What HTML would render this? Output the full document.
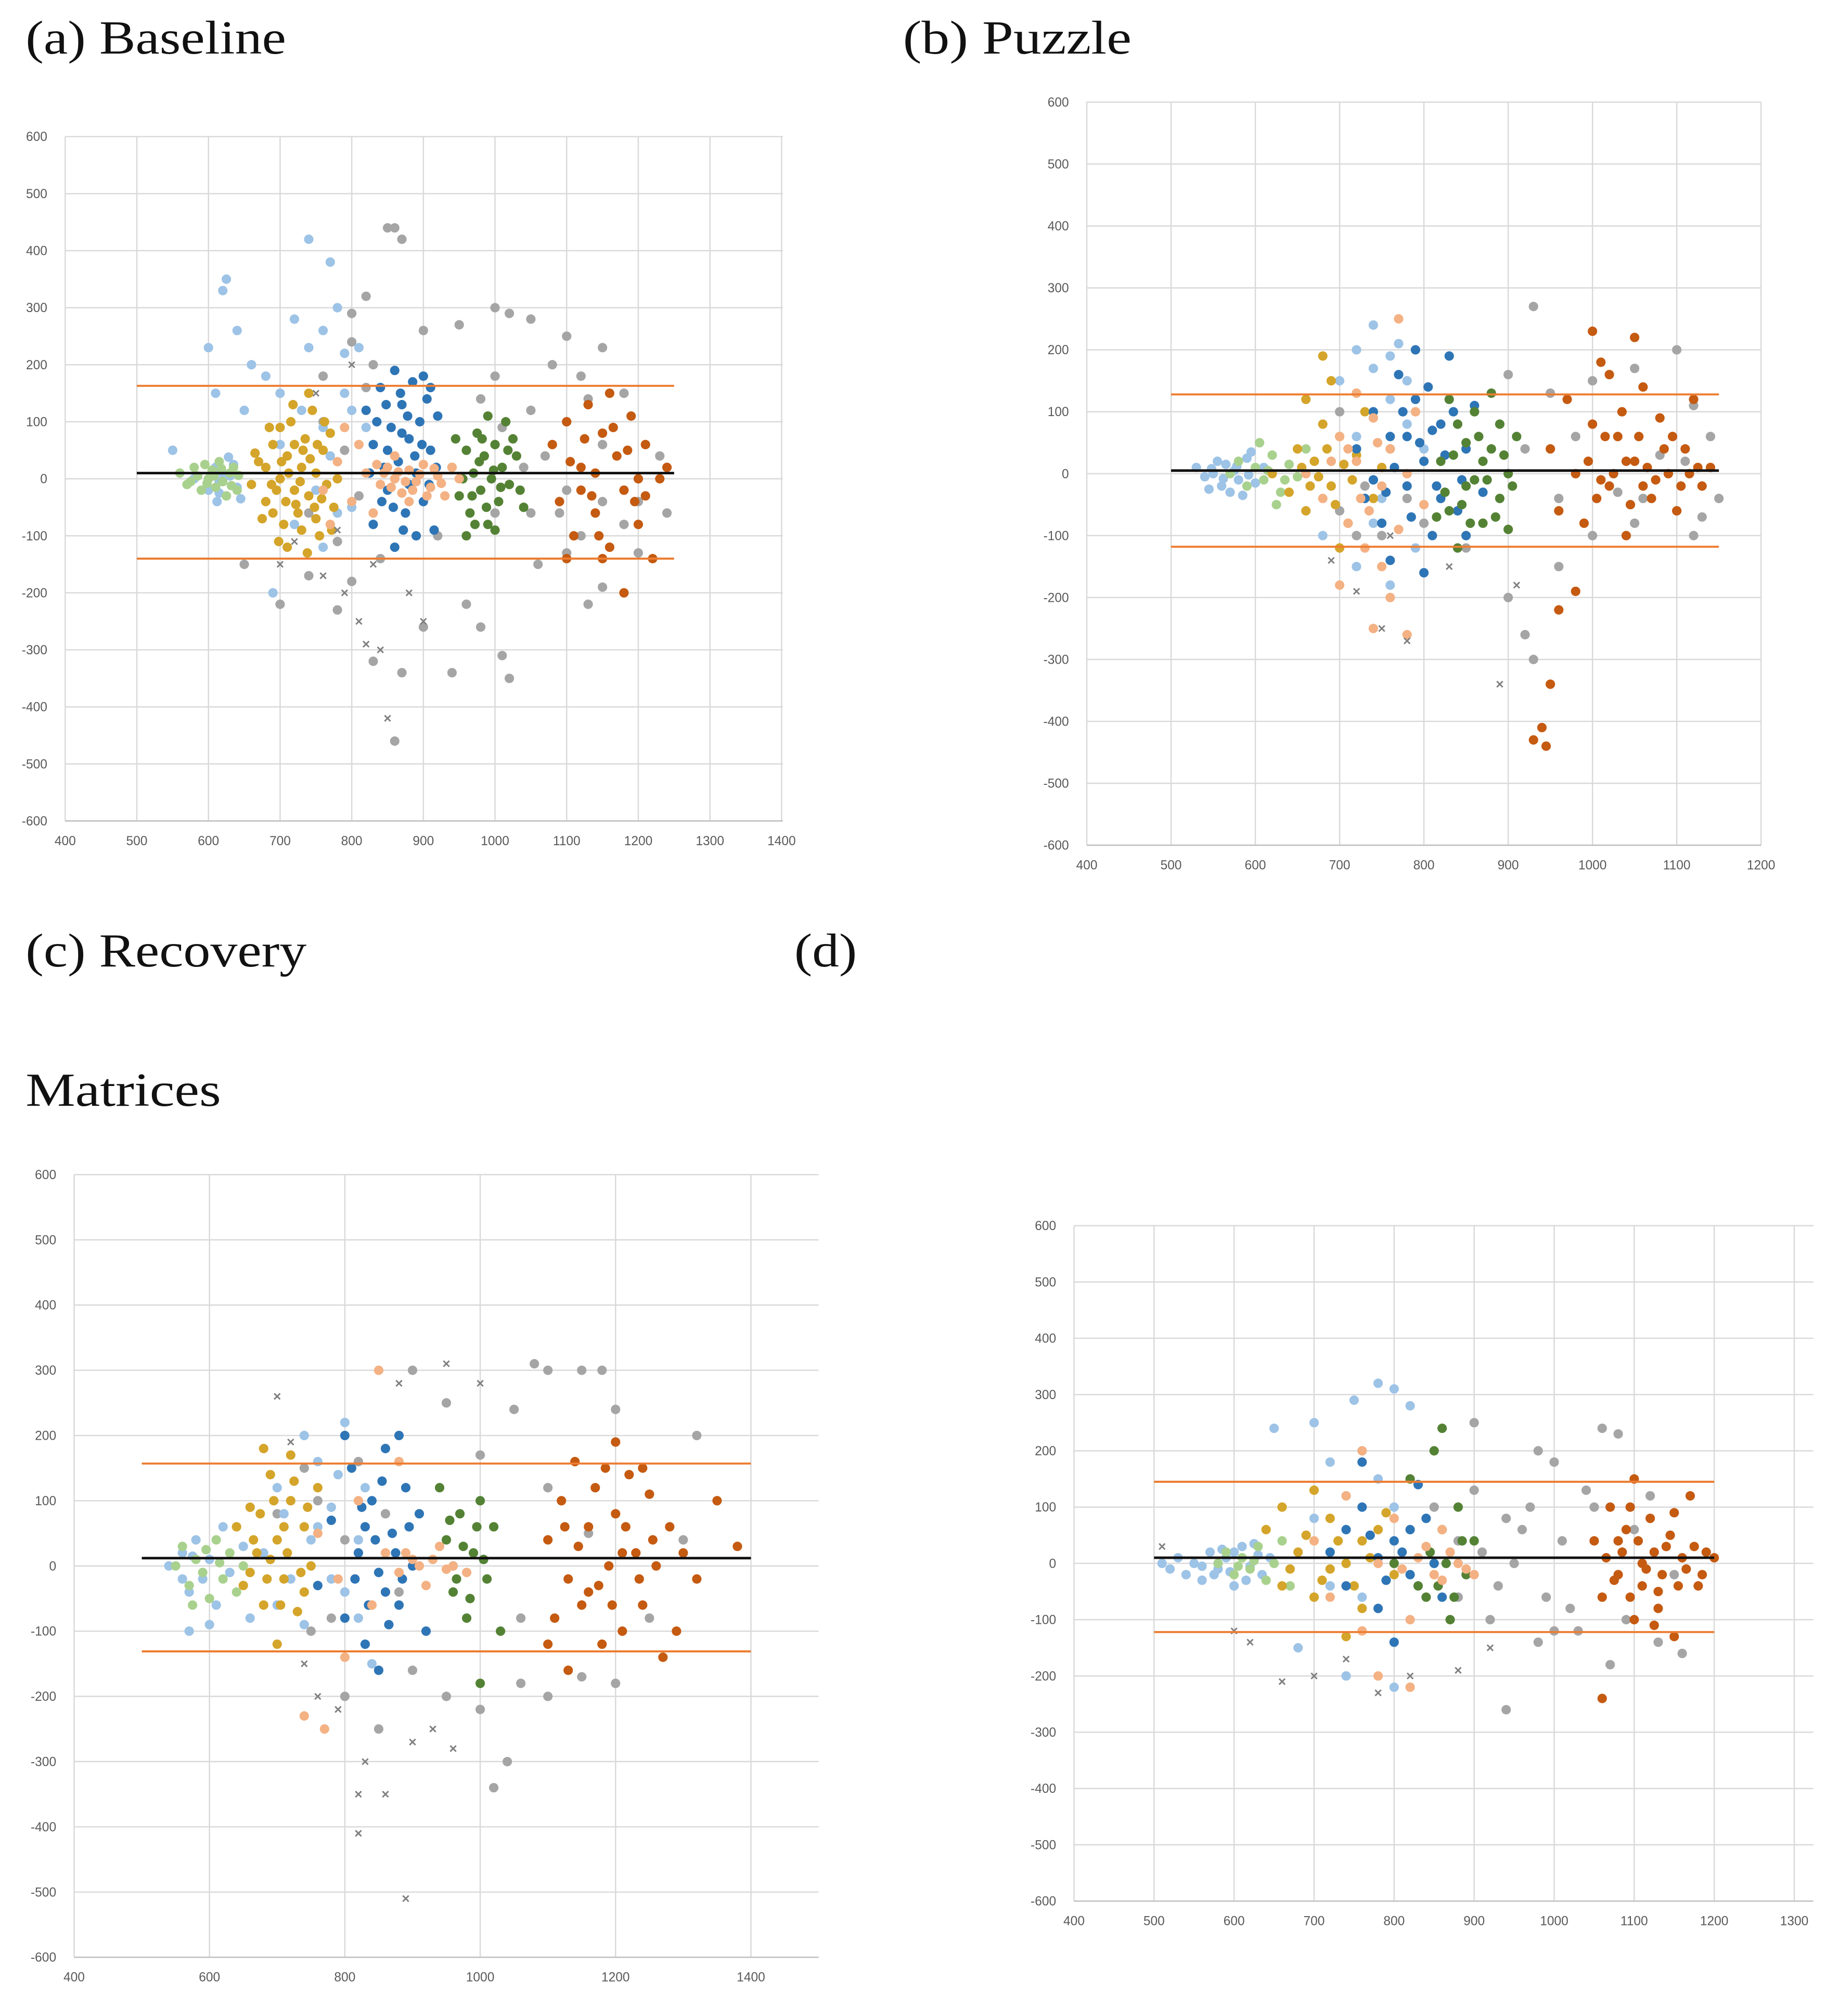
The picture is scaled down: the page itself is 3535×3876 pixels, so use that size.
<!DOCTYPE html>
<html><head><meta charset="utf-8"><style>
html,body{margin:0;padding:0;background:#fff;}
svg{display:block;}
.t{font-family:"Liberation Serif",serif;fill:#111;}
.k{font-family:"Liberation Sans",sans-serif;fill:#595959;font-size:10px;}
</style></head><body>
<svg id="fig" width="3535" height="3876" viewBox="0 0 1440 1579" xmlns="http://www.w3.org/2000/svg">
<rect width="1440" height="1579" fill="#fff"/>
<text class="t" x="20" y="42" font-size="37" textLength="204" lengthAdjust="spacingAndGlyphs">(a) Baseline</text>
<text class="t" x="707" y="42" font-size="37" textLength="179" lengthAdjust="spacingAndGlyphs">(b) Puzzle</text>
<text class="t" x="20" y="757" font-size="37" textLength="220" lengthAdjust="spacingAndGlyphs">(c) Recovery</text>
<text class="t" x="622" y="757" font-size="37" textLength="49" lengthAdjust="spacingAndGlyphs">(d)</text>
<text class="t" x="20" y="866" font-size="37" textLength="153" lengthAdjust="spacingAndGlyphs">Matrices</text>
</svg>
<script>
const C = {lb:"#9dc3e6", lg:"#a9d18e", go:"#d4a52a", gr:"#a5a5a5", bl:"#2e75b6", pe:"#f4b183", gn:"#548235", or:"#c55a11", dg:"#7f7f7f"};
// ---- panel a data
const aLimits = [10, 163, -140];
const aLightBlue = [[550,50],[580,0],[600,-20],[610,20],[615,-5],[620,10],[625,-30],[630,5],[635,25],[640,-15],[600,230],[620,330],[625,350],[640,260],[660,200],[680,180],[700,150],[720,280],[740,230],[760,260],[780,300],[790,220],[720,-80],[760,-120],[690,-200],[800,-50],[650,120],[610,150],[770,380],[740,420],[615,-25],[605,8],[645,-35],[628,38],[612,-40],[700,60],[730,120],[760,90],[790,150],[810,230],[780,-60],[750,-20],[820,90],[800,120],[770,40]];
const aLightGreen = [[560,10],[570,-10],[580,20],[590,-20],[600,0],[605,15],[610,-15],[615,30],[620,-5],[630,10],[640,-20],[585,5],[595,25],[625,-30],[635,20],[575,-5],[598,-8],[608,5],[618,18],[632,-12],[642,6]];
const aGold = [[660,-10],[670,30],[680,-40],[690,60],[700,0],[705,-80],[710,40],[715,100],[720,-20],[725,-60],[730,20],[735,70],[740,-30],[745,120],[750,10],[755,-100],[760,50],[765,-10],[770,80],[775,-50],[780,0],[690,-60],[700,90],[710,-120],[720,60],[730,-90],[740,150],[750,-70],[680,20],[695,-20],[712,10],[728,-5],[742,35],[758,-35],[665,45],[675,-70],[685,90],[698,-110],[708,-40],[718,130],[732,50],[748,-50],[762,100],[772,-90],[738,-130],[702,30],[722,-45],[752,60],[688,-10]];
const aGray = [[650,-150],[700,-220],[740,-170],[780,-230],[800,-180],[830,-320],[860,-460],[870,-340],[900,-260],[940,-340],[980,-260],[1010,-310],[1020,-350],[1060,-150],[1100,-130],[1130,-220],[1150,-190],[1200,-130],[1000,300],[1020,290],[1050,280],[1100,250],[1150,230],[1180,150],[950,270],[900,260],[860,440],[850,440],[870,420],[820,320],[800,290],[1000,180],[1050,120],[1100,100],[1150,60],[1230,40],[1050,-60],[1100,-20],[1200,-40],[960,-220],[920,-100],[1120,-100],[1240,-60],[1080,200],[1120,180],[980,140],[760,100],[790,50],[810,-30],[780,-110],[820,160],[840,-140],[760,180],[740,-60],[800,240],[830,200],[1000,-60],[1040,20],[1070,40],[1090,-60],[1130,140],[1180,-80],[1150,-40],[1010,90]];
const aBlue = [[820,120],[830,60],[840,160],[850,-20],[855,90],[860,190],[865,30],[870,130],[875,-60],[880,70],[885,170],[890,10],[895,100],[900,-40],[905,140],[910,50],[915,-90],[920,110],[830,-80],[860,-120],[890,-100],[845,20],[870,80],[900,180],[825,10],[880,-10],[910,160],[850,50],[835,100],[848,130],[858,-50],[868,150],[878,110],[888,40],[898,60],[908,-10],[918,20],[842,-40],[872,-90]];
const aPeach = [[760,-20],[780,30],[800,-40],[820,10],[840,-10],[850,20],[860,0],[870,-25],[880,15],[890,-5],[900,25],[910,-15],[920,5],[930,-30],[940,20],[950,0],[810,60],[830,-60],[790,90],[770,-80],[860,40],[880,-40],[855,-15],[865,12],[875,-5],[885,-20],[895,8],[905,-30],[915,18],[925,-8],[845,10],[835,25]];
const aGreen = [[940,20],[950,-30],[960,50],[965,-60],[970,10],[975,80],[980,-20],[985,40],[990,-80],[995,0],[1000,60],[1005,-40],[1010,20],[1015,100],[1020,-10],[1030,40],[1040,-50],[960,-100],[990,110],[1000,-90],[945,70],[1025,70],[955,0],[968,-30],[978,30],[988,-50],[998,15],[1008,-15],[1018,50],[1035,-20],[982,70],[972,-80]];
const aOrange = [[1080,60],[1090,-40],[1100,100],[1110,-100],[1120,20],[1130,130],[1140,-60],[1150,80],[1160,-120],[1170,40],[1180,-20],[1190,110],[1200,-80],[1210,60],[1220,-140],[1230,0],[1240,20],[1100,-140],[1150,-140],[1180,-200],[1120,-20],[1160,150],[1200,0],[1140,10],[1210,-30],[1125,70],[1145,-100],[1165,90],[1185,50],[1195,-40],[1105,30],[1135,-30]];
const aDarkGray = [[700,-150],[720,-110],[760,-170],[790,-200],[810,-250],[820,-290],[840,-300],[850,-420],[900,-250],[880,-200],[750,150],[800,200],[780,-90],[830,-150]];

// ---- panel b data
const bLimits = [5, 128, -118];
const bLightBlue = [[530,10],[540,-5],[550,0],[560,-20],[565,15],[570,-30],[575,5],[580,-10],[590,25],[600,-15],[610,10],[545,-25],[555,20],[585,-35],[595,35],[700,150],[720,200],[740,170],[760,190],[780,150],[680,-100],[720,-150],[760,-180],[790,-120],[740,240],[770,210],[548,8],[562,-8],[578,12],[592,-2],[720,60],[750,-40],[780,80],[740,-80],[800,40],[760,120]];
const bLightGreen = [[570,0],[580,20],[590,-20],[600,10],[610,-10],[620,30],[630,-30],[640,15],[650,-5],[660,40],[605,50],[625,-50],[615,5],[635,-10]];
const bGold = [[620,0],[640,-30],[650,40],[660,-60],[670,20],[680,80],[690,-20],[700,60],[710,-80],[720,30],[730,100],[740,-40],[750,10],[660,120],[690,150],[700,-120],[680,190],[720,130],[675,-5],[705,15],[655,10],[665,-20],[685,40],[695,-50],[715,-10]];
const bGray = [[700,-60],[750,-100],[800,-80],[850,-120],[900,-200],[920,-260],[930,-300],[960,-150],[1000,-100],[1050,-80],[1100,-60],[1120,-100],[1150,-40],[900,160],[930,270],[950,130],[1000,150],[1050,170],[1100,200],[1120,110],[1140,60],[1080,30],[1030,-30],[980,60],[1130,-70],[1060,-40],[700,100],[730,-20],[760,40],[720,-100],[780,-40],[920,40],[960,-40],[1110,20]];
const bBlue = [[720,40],[730,-40],[740,100],[750,-80],[760,60],[770,160],[780,-20],[790,120],[800,20],[810,-100],[820,80],[830,190],[840,-60],[850,40],[860,110],[870,-30],[760,-140],[800,-160],[740,-10],[780,60],[820,-40],[790,200],[850,-100],[765,10],[775,100],[785,-70],[795,50],[805,140],[815,-20],[825,30],[835,100],[845,-10],[755,-30],[810,70]];
const bPeach = [[660,0],[680,-40],[700,60],[710,-80],[720,20],[730,-120],[740,90],[750,-20],[760,40],[770,-90],[780,0],[790,100],[700,-180],[740,-250],[760,-200],[780,-260],[770,250],[720,130],[750,-150],[800,-50],[690,20],[710,40],[725,-40],[735,-60],[745,50]];
const bGreen = [[820,20],[830,-60],[840,80],[850,-20],[860,100],[870,-80],[880,40],[890,-40],[900,0],[910,60],[840,-120],[880,130],[860,-10],[900,-90],[830,120],[870,20],[850,50],[890,80],[825,-30],[835,30],[845,-50],[855,-80],[865,60],[875,-10],[885,-70],[895,30],[905,-20],[815,-70]];
const bOrange = [[950,40],[960,-60],[970,120],[980,0],[990,-80],[1000,80],[1010,180],[1020,-20],[1030,60],[1040,-100],[1050,20],[1060,140],[1070,-40],[1080,90],[1090,0],[1100,-60],[1110,40],[1120,120],[1130,-20],[1140,10],[1000,230],[1050,220],[980,-190],[960,-220],[940,-410],[950,-340],[945,-440],[930,-430],[1020,160],[1060,-20],[995,20],[1005,-40],[1015,60],[1025,0],[1035,100],[1045,-50],[1055,60],[1065,10],[1075,-10],[1085,40],[1095,60],[1105,-20],[1115,0],[1125,10],[1040,20],[1010,-10]];
const bDarkGray = [[690,-140],[720,-190],[750,-250],[760,-100],[780,-270],[830,-150],[890,-340],[910,-180]];

// ---- panel c data
const cLimits = [12, 157, -131];
const cLightBlue = [[540,0],[560,20],[570,-40],[580,40],[590,-20],[600,10],[610,-60],[620,60],[630,-10],[650,30],[660,-80],[700,120],[740,200],[760,160],[800,220],[820,-80],[840,-150],[700,-60],[750,40],[780,-20],[600,-90],[570,-100],[720,-20],[680,20],[760,60],[780,90],[800,-40],[820,40],[740,-90],[710,80],[790,140],[830,120],[560,-20],[575,15]];
const cLightGreen = [[550,0],[560,30],[570,-30],[580,10],[590,-10],[600,-50],[610,40],[620,-20],[630,20],[640,-40],[650,0],[575,-60],[595,25],[615,5]];
const cGold = [[640,60],[650,-30],[660,90],[670,20],[680,-60],[690,140],[700,40],[710,-20],[720,100],[730,-70],[740,60],[750,0],[760,120],[680,180],[700,-120],[720,170],[660,-10],[740,-40],[710,60],[675,80],[685,-20],[695,100],[705,-60],[715,20],[725,130],[735,-10],[745,90],[665,40],[690,10]];
const cGray = [[700,80],[750,-100],[800,-200],[850,-250],[900,-160],[950,-200],[1000,-220],[1020,-340],[1040,-300],[1060,-180],[1100,-200],[1150,-170],[1200,-180],[1050,240],[1080,310],[1100,300],[1150,300],[1180,300],[1200,240],[1320,200],[1000,170],[950,250],[900,300],[1100,120],[1250,-80],[1300,40],[1160,50],[1060,-80],[760,100],[800,40],[840,-60],[780,-80],[820,160],[860,80],[740,150],[880,-40]];
const cBlue = [[760,-30],[780,70],[800,-80],[810,150],[820,20],[830,-120],[840,100],[850,-10],[860,180],[870,50],[880,-60],[890,120],[900,0],[910,80],[920,-100],[800,200],[850,-160],[880,200],[830,60],[860,-40],[815,-20],[825,90],[835,-60],[845,40],[855,130],[865,-90],[875,20],[885,-20],[895,60]];
const cPeach = [[760,50],[790,-20],[820,100],[840,-60],[860,20],[880,-10],[900,10],[920,-30],[940,30],[960,0],[980,-10],[850,300],[880,160],[800,-140],[740,-230],[770,-250],[910,0],[930,10],[950,-5],[890,20]];
const cGreen = [[950,40],[960,-40],[970,80],[980,-80],[990,20],[1000,100],[1010,-20],[1020,60],[1030,-100],[940,120],[1000,-180],[960,0],[955,70],[965,-20],[975,30],[985,-50],[995,60],[1005,10]];
const cOrange = [[1100,40],[1110,-80],[1120,100],[1130,-20],[1140,160],[1150,-60],[1160,60],[1170,120],[1180,-120],[1190,0],[1200,80],[1210,-100],[1220,140],[1230,20],[1240,-60],[1250,110],[1260,0],[1270,-140],[1280,60],[1290,-100],[1300,20],[1320,-20],[1350,100],[1380,30],[1130,-160],[1200,190],[1160,-40],[1240,150],[1100,-120],[1210,20],[1145,30],[1175,-30],[1195,-60],[1215,60],[1235,-20],[1255,40],[1185,150],[1125,60]];
const cDarkGray = [[700,260],[720,190],[740,-150],[760,-200],[790,-220],[820,-350],[830,-300],[860,-350],[820,-410],[890,-510],[900,-270],[930,-250],[960,-280],[950,310],[1000,280],[880,280]];

// ---- panel d data
const dLimits = [10, 145, -122];
const dLightBlue = [[510,0],[520,-10],[530,10],[540,-20],[550,0],[560,-30],[570,20],[580,-10],[590,10],[600,-40],[610,30],[620,-5],[630,15],[650,240],[700,250],[750,290],[780,320],[800,310],[820,280],[760,200],[720,180],[680,-150],[740,-200],[800,-220],[560,-5],[600,20],[575,-20],[585,25],[595,-15],[615,-30],[625,35],[635,-20],[645,10],[700,80],[740,120],[780,150],[760,-60],[720,-40],[800,100]];
const dLightGreen = [[580,0],[590,20],[600,-20],[610,10],[620,-10],[630,30],[640,-30],[650,0],[660,40],[670,-40],[605,-5],[625,5]];
const dGold = [[640,60],[660,-40],[680,20],[700,-60],[720,80],[740,0],[760,-80],[780,60],[800,-20],[700,130],[740,-130],[660,100],[720,-10],[760,40],[690,50],[710,-30],[730,40],[750,-40],[770,10],[790,90],[670,-10]];
const dGray = [[850,100],[880,-60],[900,130],[920,-100],[950,0],[980,-140],[1000,180],[1020,-80],[1050,100],[1070,-180],[1100,60],[1130,-140],[1150,-20],[1060,240],[1080,230],[980,200],[900,250],[940,-260],[1000,-120],[1120,120],[1160,-160],[960,60],[910,20],[930,-40],[970,100],[990,-60],[1010,40],[1030,-120],[1040,130],[1090,-100],[940,80],[880,40]];
const dBlue = [[720,20],[740,-40],[760,100],[780,-80],[800,40],[820,-20],[840,80],[860,-60],[760,180],[800,-140],[830,140],[780,10],[820,60],[740,60],[790,-30],[810,20],[770,50],[850,0]];
const dPeach = [[700,40],[720,-60],[740,120],[760,-120],[780,0],[800,80],[820,-100],[840,30],[860,-30],[880,0],[900,-20],[780,-200],[820,-220],[760,200],[860,60],[810,-10],[830,10],[850,-20],[870,20],[890,-10]];
const dGreen = [[800,0],[820,150],[840,-60],[850,200],[860,60],[870,-100],[880,100],[890,-20],[900,40],[860,240],[830,-40],[845,20],[855,-40],[865,0],[875,-60],[885,40]];
const dOrange = [[1050,40],[1060,-60],[1070,100],[1080,-20],[1090,60],[1100,-100],[1110,0],[1120,80],[1130,-50],[1140,30],[1150,-130],[1160,10],[1170,120],[1180,-40],[1190,20],[1200,10],[1060,-240],[1100,150],[1130,-80],[1080,40],[1110,-40],[1150,90],[1065,10],[1075,-30],[1085,20],[1095,-60],[1105,40],[1115,-10],[1125,20],[1135,-20],[1145,50],[1155,-40],[1165,-10],[1175,30],[1185,-20],[1095,100],[1125,-110]];
const dDarkGray = [[620,-140],[660,-210],[700,-200],[740,-170],[780,-230],[820,-200],[880,-190],[920,-150],[510,30],[600,-120]];

const NS = "http://www.w3.org/2000/svg";
const fig = document.getElementById("fig");
function mk(tag, attrs, parent){ const e=document.createElementNS(NS,tag); for(const k in attrs) e.setAttribute(k,attrs[k]); (parent||fig).appendChild(e); return e; }

function panel(id, P, limits, series, limX){
  const g = mk("g",{});
  
  
  const sx = v => P.px0 + (v-P.x0)/(P.x1-P.x0)*(P.px1-P.px0);
  const sy = v => P.py0 + (v-P.y0)/(P.y1-P.y0)*(P.py1-P.py0);
  for(let v=P.y0; v<=P.y1; v+=100){
    const l = mk("line",{x1:P.px0,x2:P.right,y1:sy(v),y2:sy(v),stroke:"#d9d9d9","stroke-width":1},g);
    
    
    const t = mk("text",{x:P.px0-14,y:sy(v)+3.5,"text-anchor":"end",class:"k"},g);
    t.textContent = v;
    
    
  }
  for(const v of P.xticks){
    const l = mk("line",{x1:sx(v),x2:sx(v),y1:sy(P.y1),y2:sy(P.y0),stroke:"#d9d9d9","stroke-width":1},g);
    
    
    const t = mk("text",{x:sx(v),y:sy(P.y0)+19,"text-anchor":"middle",class:"k"},g);
    t.textContent = v;
    
    
  }
  const ax = mk("line",{x1:P.px0,x2:P.right,y1:sy(P.y0),y2:sy(P.y0),stroke:"#bfbfbf","stroke-width":1},g);
  
  
  for(const s of series){
    for(const p of s.pts){
      if(s.x){
        const x=sx(p[0]), y=sy(p[1]);
        const m = mk("path",{d:`M${x-2.3},${y-2.3}L${x+2.3},${y+2.3}M${x-2.3},${y+2.3}L${x+2.3},${y-2.3}`,stroke:s.c,"stroke-width":1.2},g);
        
        
      } else {
        const c = mk("circle",{cx:sx(p[0]),cy:sy(p[1]),r:3.7,fill:s.c},g);
        
        
      }
    }
  }
  const names=['mean-line','upper-limit','lower-limit'];
  limits.forEach((v,i)=>{
    const l = mk("line",{x1:sx(limX[0]),x2:sx(limX[1]),y1:sy(v),y2:sy(v),stroke:i?"#ed7d31":"#111","stroke-width":i?1.6:2},g);
    
    
  });
}
function S(a,b,c,d,e,f,g,h,i){return [{pts:d,c:C.gr},{pts:a,c:C.lb},{pts:b,c:C.lg},{pts:c,c:C.go},{pts:e,c:C.bl},{pts:g,c:C.gn},{pts:f,c:C.pe},{pts:h,c:C.or},{pts:i,c:C.dg,x:true}];}

panel("panel-a",{x0:400,x1:1400,px0:51,px1:612,right:613,y0:-600,y1:600,py0:643,py1:107,xticks:[400,500,600,700,800,900,1000,1100,1200,1300,1400]},aLimits,S(aLightBlue,aLightGreen,aGold,aGray,aBlue,aPeach,aGreen,aOrange,aDarkGray),[500,1250]);
panel("panel-b",{x0:400,x1:1200,px0:851,px1:1379,right:1379,y0:-600,y1:600,py0:662,py1:80,xticks:[400,500,600,700,800,900,1000,1100,1200]},bLimits,S(bLightBlue,bLightGreen,bGold,bGray,bBlue,bPeach,bGreen,bOrange,bDarkGray),[500,1150]);
panel("panel-c",{x0:400,x1:1400,px0:58,px1:588,right:641,y0:-600,y1:600,py0:1533,py1:920,xticks:[400,600,800,1000,1200,1400]},cLimits,S(cLightBlue,cLightGreen,cGold,cGray,cBlue,cPeach,cGreen,cOrange,cDarkGray),[500,1400]);
panel("panel-d",{x0:400,x1:1300,px0:841,px1:1405,right:1420,y0:-600,y1:600,py0:1489,py1:960,xticks:[400,500,600,700,800,900,1000,1100,1200,1300]},dLimits,S(dLightBlue,dLightGreen,dGold,dGray,dBlue,dPeach,dGreen,dOrange,dDarkGray),[500,1200]);
</script>
</body></html>
